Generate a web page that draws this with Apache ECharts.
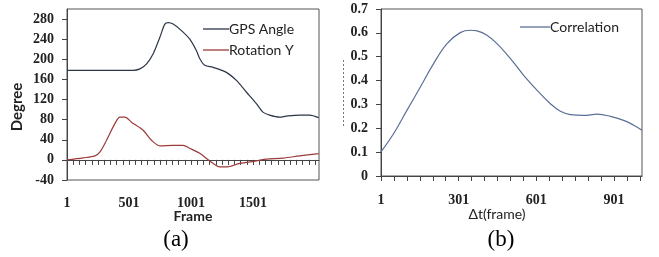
<!DOCTYPE html>
<html>
<head>
<meta charset="utf-8">
<script src="https://cdn.jsdelivr.net/npm/echarts@6/dist/echarts.min.js"></script>
<style>
    html, body { margin: 0; padding: 0; background: #fff; }
    #chart { width: 659px; height: 257px; }
</style>
</head>
<body>
<div id="chart"></div>
<script>
// (a) GPS angle vs rotation Y, per frame
const gpsFrames = [1, 300, 535, 589, 643, 696, 750, 790, 817, 857, 924, 991, 1045, 1072, 1112, 1179, 1286, 1367, 1447, 1528, 1581, 1635, 1716, 1770, 1877, 1957, 2030];
const gpsAngle = [178, 178, 178, 181, 191, 211, 244, 270, 273, 270, 257, 240, 217, 201, 188, 184, 174, 158, 135, 112, 95, 89, 85, 87, 89, 89, 84];
const rotFrames = [1, 132, 226, 267, 320, 387, 428, 468, 521, 615, 682, 750, 857, 937, 991, 1071, 1152, 1233, 1286, 1394, 1528, 1608, 1742, 1877, 2030];
const rotationY = [0, 4, 8, 16, 39, 72, 85, 85, 75, 59, 39, 28, 29, 29, 23, 13, -2, -14, -14, -7, -2, 1.5, 3.5, 8, 12.5];

// (b) correlation vs time shift
const lagFrames = [1, 50, 101, 153, 204, 256, 307, 346, 372, 410, 449, 501, 552, 604, 655, 694, 733, 784, 836, 887, 938, 977, 1009];
const correlation = [0.101, 0.178, 0.275, 0.373, 0.471, 0.555, 0.601, 0.611, 0.608, 0.590, 0.555, 0.492, 0.422, 0.359, 0.303, 0.271, 0.257, 0.254, 0.259, 0.250, 0.233, 0.213, 0.192];

const frameLabels = [1, 501, 1001, 1501];
const lagLabels = [1, 301, 601, 901];
const degreeTicks = [-40, 0, 40, 80, 120, 160, 200, 240, 280];
const corrTicks = [0, 0.1, 0.2, 0.3, 0.4, 0.5, 0.6, 0.7];

function pairs(xs, ys) {
    return xs.map(function (x, i) { return [x, ys[i]]; });
}
function minorTicks(start, end, step) {
    const out = [];
    for (let v = start; v <= end; v += step) out.push(v);
    return out;
}
function plain(v) {
    return String(Math.round(v * 10) / 10);
}

const numFont = { fontFamily: 'Liberation Serif', fontWeight: 'bold', fontSize: 14, color: '#222', formatter: plain };
const axisLine = { show: true, lineStyle: { color: '#444', width: 1 } };
const tick = { show: true, inside: false, length: 5, lineStyle: { color: '#444' } };
const legendText = { fontFamily: 'Lato', fontSize: 14, color: '#222', padding: [0, 0, 0, -5] };

const chart = echarts.init(document.getElementById('chart'));
chart.setOption({
    animation: false,
    backgroundColor: '#fff',
    grid: [
        { left: 67, right: 340, top: 9, bottom: 77, show: true, borderColor: '#555', borderWidth: 1 },
        { left: 381, right: 17, top: 9, bottom: 81, show: true, borderColor: '#555', borderWidth: 1 }
    ],
    xAxis: [
        {
            gridIndex: 0, type: 'value', min: 1, max: 2033,
            axisLine: axisLine, splitLine: { show: false },
            axisTick: Object.assign({ customValues: minorTicks(1, 2001, 50) }, tick),
            axisLabel: Object.assign({ customValues: frameLabels, margin: 16 }, numFont)
        },
        {
            gridIndex: 1, type: 'value', min: 1, max: 1009,
            axisLine: axisLine, splitLine: { show: false },
            axisTick: Object.assign({ customValues: minorTicks(1, 1001, 50) }, tick),
            axisLabel: Object.assign({ customValues: lagLabels, margin: 17 }, numFont)
        }
    ],
    yAxis: [
        {
            gridIndex: 0, type: 'value', min: -40, max: 300,
            axisLine: axisLine, splitLine: { show: false },
            axisTick: Object.assign({ customValues: degreeTicks }, tick),
            axisLabel: Object.assign({ customValues: degreeTicks, margin: 13 }, numFont)
        },
        {
            gridIndex: 1, type: 'value', min: 0, max: 0.7,
            axisLine: axisLine, splitLine: { show: false },
            axisTick: Object.assign({ customValues: corrTicks }, tick),
            axisLabel: Object.assign({ customValues: corrTicks, margin: 13 }, numFont)
        }
    ],
    legend: [
        {
            data: ['GPS Angle', 'Rotation Y'], orient: 'vertical', icon: 'rect',
            left: 198, top: 17, itemWidth: 26, itemHeight: 1.3, itemGap: 7,
            textStyle: legendText
        },
        {
            data: ['Correlation'], icon: 'rect',
            left: 515, top: 15, itemWidth: 30, itemHeight: 1.3,
            textStyle: legendText
        }
    ],
    series: [
        {
            name: 'GPS Angle', type: 'line', xAxisIndex: 0, yAxisIndex: 0,
            data: pairs(gpsFrames, gpsAngle), smooth: 0.3, symbol: 'none',
            lineStyle: { color: '#2b3648', width: 1.2 }, itemStyle: { color: '#2b3648' }
        },
        {
            name: 'Rotation Y', type: 'line', xAxisIndex: 0, yAxisIndex: 0,
            data: pairs(rotFrames, rotationY), smooth: 0.3, symbol: 'none',
            lineStyle: { color: '#9c3a3a', width: 1.2 }, itemStyle: { color: '#9c3a3a' }
        },
        {
            name: 'Correlation', type: 'line', xAxisIndex: 1, yAxisIndex: 1,
            data: pairs(lagFrames, correlation), smooth: 0.4, symbol: 'none',
            lineStyle: { color: '#5a7096', width: 1.2 }, itemStyle: { color: '#5a7096' }
        }
    ],
    graphic: [
        { type: 'text', x: 193, y: 216, style: { text: 'Frame', fontFamily: 'Lato', fontWeight: 'bold', fontSize: 14, fill: '#222', align: 'center', verticalAlign: 'middle' } },
        { type: 'text', x: 17, y: 107, rotation: Math.PI / 2, style: { text: 'Degree', fontFamily: 'Lato', fontWeight: 'bold', fontSize: 15, fill: '#222', align: 'center', verticalAlign: 'middle' } },
        { type: 'text', x: 497, y: 214, style: { text: 'Δt(frame)', fontFamily: 'Lato', fontSize: 14, fill: '#222', align: 'center', verticalAlign: 'middle' } },
        { type: 'text', x: 176, y: 240, style: { text: '(a)', fontFamily: 'Liberation Serif', fontSize: 23, fill: '#000', align: 'center', verticalAlign: 'middle' } },
        { type: 'text', x: 501, y: 240, style: { text: '(b)', fontFamily: 'Liberation Serif', fontSize: 23, fill: '#000', align: 'center', verticalAlign: 'middle' } },
        { type: 'line', shape: { x1: 343.5, y1: 60, x2: 343.5, y2: 128 }, style: { stroke: '#777', lineWidth: 1, lineDash: [2, 2] } }
    ]
});
</script>
</body>
</html>
